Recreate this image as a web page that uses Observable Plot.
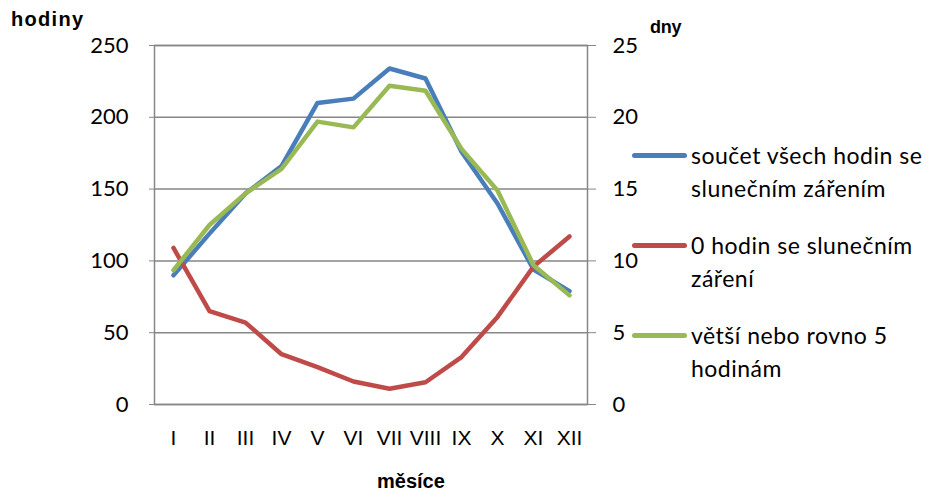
<!DOCTYPE html>
<html>
<head>
<meta charset="utf-8">
<script src="https://cdn.jsdelivr.net/npm/d3@7"></script>
<script src="https://cdn.jsdelivr.net/npm/@observablehq/plot@0.6"></script>
<style>
  html, body { margin: 0; padding: 0; background: #fff; }
  #wrap { position: relative; width: 933px; height: 498px; overflow: hidden; }
  .lbl { position: absolute; color: #000; white-space: nowrap; }
  .leg { position: absolute; left: 691px; font-family: Lato, sans-serif; font-size: 23px; letter-spacing: 0.5px; line-height: 33px; color: #000; white-space: nowrap; }
  .sw { position: absolute; left: 632px; width: 55px; height: 5px; border-radius: 3px; }
</style>
</head>
<body>
<div id="wrap"></div>
<script>
const months = ["I","II","III","IV","V","VI","VII","VIII","IX","X","XI","XII"];
// hours of sunshine (left axis, hodiny)
const totalHours = [90, 119, 147, 166, 210, 213, 234, 227, 176, 140, 94, 79];
// days with 0 hours of sunshine (right axis, dny)
const zeroDays = [10.9, 6.5, 5.7, 3.5, 2.6, 1.6, 1.1, 1.55, 3.3, 6.1, 9.6, 11.7];
// days with >= 5 hours of sunshine (right axis, dny)
const fiveDays = [9.35, 12.5, 14.7, 16.4, 19.7, 19.3, 22.2, 21.85, 17.8, 14.9, 9.7, 7.6];
const leftTicks = [0, 50, 100, 150, 200, 250];
const rightTicks = [0, 5, 10, 15, 20, 25];
const seriesNames = ["součet všech hodin se slunečním zářením", "0 hodin se slunečním záření", "větší nebo rovno 5 hodinám"];
const colors = ["#4A7EBB", "#BE4B48", "#98B954"];

const ratio = 10; // right axis (dny) * 10 = left axis (hodiny)
const blue = months.map((m, i) => ({m, v: totalHours[i]}));
const red = months.map((m, i) => ({m, v: zeroDays[i] * ratio}));
const green = months.map((m, i) => ({m, v: fiveDays[i] * ratio}));

const gray = "#868686";
const chart = Plot.plot({
  width: 933,
  height: 498,
  marginLeft: 154,
  marginRight: 346,
  marginTop: 45,
  marginBottom: 94,
  style: {fontFamily: "Lato, sans-serif", fontSize: "22px", color: "#000", background: "transparent"},
  x: {type: "point", domain: months, padding: 0.5},
  y: {domain: [0, 250]},
  marks: [
    Plot.gridY(leftTicks, {stroke: gray, strokeOpacity: 1, strokeWidth: 1.5}),
    Plot.frame({stroke: gray, strokeWidth: 1.5}),
    Plot.axisY(leftTicks, {anchor: "left", tickSize: 5, tickPadding: 21, stroke: gray, label: null, fontSize: 22, fontFamily: "Lato, sans-serif"}),
    Plot.axisY(rightTicks.map(d => d * ratio), {anchor: "right", tickSize: 8, tickPadding: 17, stroke: gray, label: null, tickFormat: d => d / ratio, fontSize: 22, fontFamily: "Lato, sans-serif"}),
    Plot.axisX({tickSize: 0, tickPadding: 26, label: null, fontSize: 21, fontFamily: "'Liberation Sans', Arial, sans-serif"}),
    Plot.line(blue, {x: "m", y: "v", stroke: colors[0], strokeWidth: 4.5, strokeLinejoin: "round", strokeLinecap: "round"}),
    Plot.line(red, {x: "m", y: "v", stroke: colors[1], strokeWidth: 4.5, strokeLinejoin: "round", strokeLinecap: "round"}),
    Plot.line(green, {x: "m", y: "v", stroke: colors[2], strokeWidth: 4.5, strokeLinejoin: "round", strokeLinecap: "round"})
  ]
});
const wrap = document.getElementById("wrap");
wrap.appendChild(chart);

function addLabel(text, x, y, css) {
  const d = document.createElement("div");
  d.className = "lbl";
  d.textContent = text;
  d.style.left = x + "px";
  d.style.top = y + "px";
  Object.assign(d.style, css);
  wrap.appendChild(d);
  return d;
}
addLabel("hodiny", 11, 8, {fontFamily: "'Liberation Sans', Arial, sans-serif", fontWeight: "bold", fontSize: "20px", letterSpacing: "1.3px"});
addLabel("dny", 650, 17, {fontFamily: "'Liberation Sans', Arial, sans-serif", fontWeight: "bold", fontSize: "18px", letterSpacing: "-0.3px"});
addLabel("měsíce", 377, 470, {fontFamily: "'Liberation Sans', Arial, sans-serif", fontWeight: "bold", fontSize: "20px"});

const legLines = [["součet všech hodin se", "slunečním zářením"], ["0 hodin se slunečním", "záření"], ["větší nebo rovno 5", "hodinám"]];
const legY = [155, 245, 335];
legLines.forEach((lines, i) => {
  const sw = document.createElement("div");
  sw.className = "sw";
  sw.style.top = (legY[i] - 2.5) + "px";
  sw.style.background = colors[i];
  wrap.appendChild(sw);
  const t = document.createElement("div");
  t.className = "leg";
  t.style.top = (legY[i] - 16.5) + "px";
  t.innerHTML = lines.join("<br>");
  wrap.appendChild(t);
});
</script>
</body>
</html>
